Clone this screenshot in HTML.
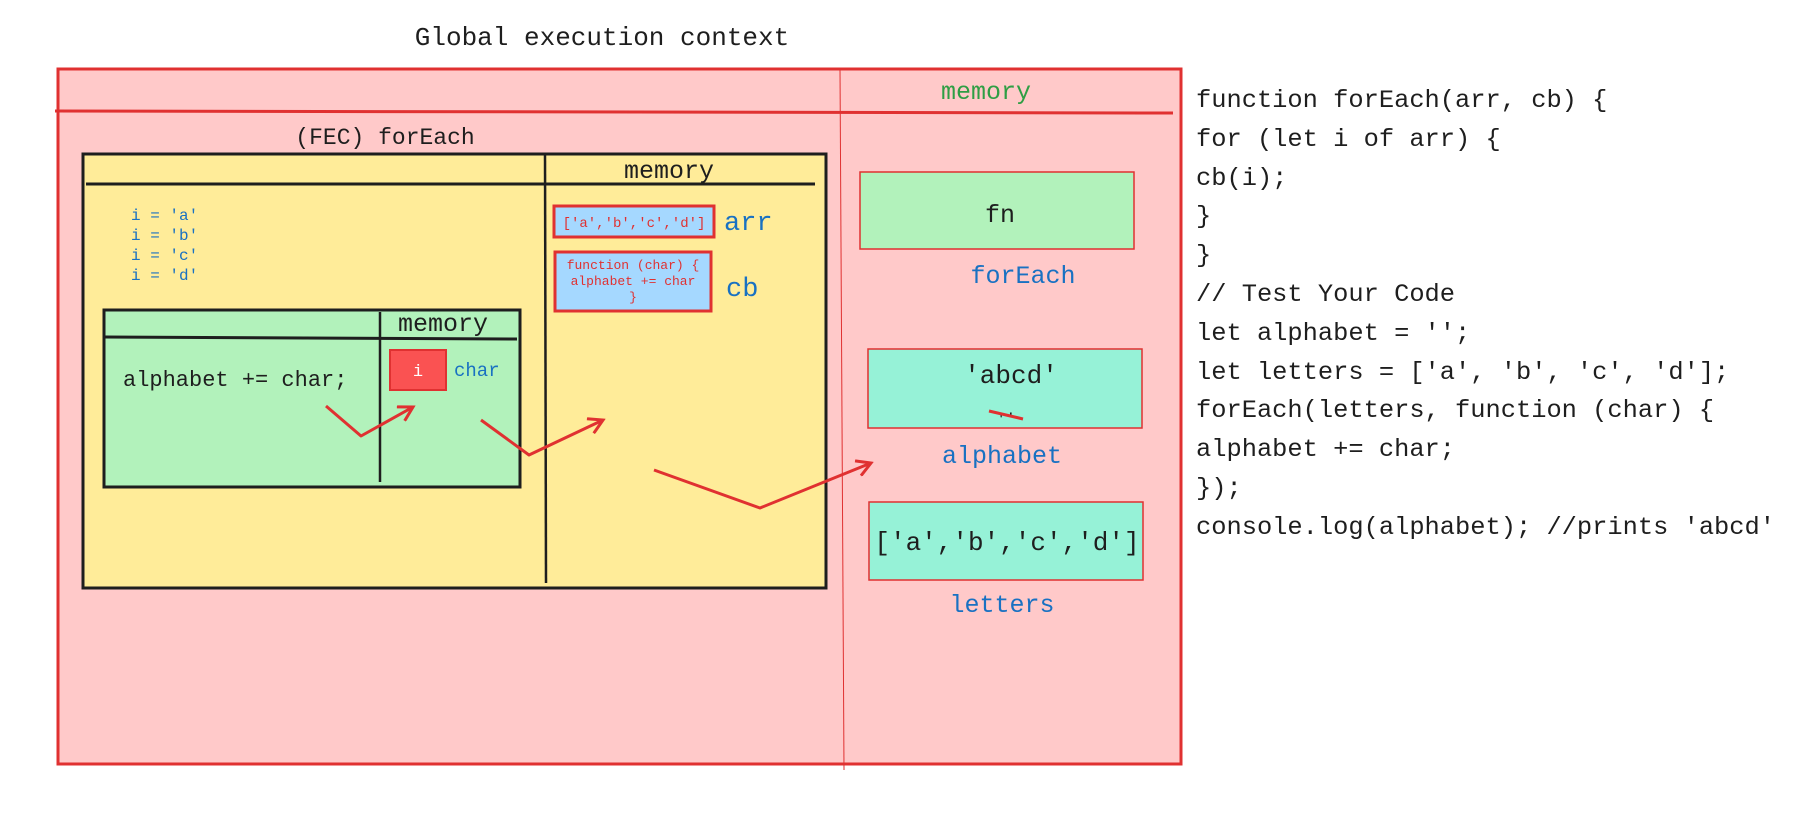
<!DOCTYPE html>
<html><head><meta charset="utf-8"><style>
html,body{margin:0;padding:0;background:#fff;width:1793px;height:817px;overflow:hidden}
svg{display:block}
text{font-family:"Liberation Mono",monospace}
</style></head><body>
<svg width="1793" height="817" viewBox="0 0 1793 817" xmlns="http://www.w3.org/2000/svg">
<defs>
<marker id="ah" markerWidth="18" markerHeight="18" refX="15" refY="9" orient="auto" markerUnits="userSpaceOnUse">
<path d="M1,1 L15,9 L1,17" fill="none" stroke="#e03131" stroke-width="3"/>
</marker>
</defs>
<text x="602" y="45" font-size="26" text-anchor="middle" fill="#1e1e1e">Global execution context</text>
<rect x="58" y="69" width="1123" height="695" fill="#ffc9c9" stroke="#e03131" stroke-width="3"/>
<line x1="55" y1="111" x2="1173" y2="113" stroke="#e03131" stroke-width="3"/>
<line x1="840" y1="69" x2="844" y2="770" stroke="#e03131" stroke-width="1"/>
<text x="986" y="99" font-size="25" text-anchor="middle" fill="#2f9e44">memory</text>

<text x="385" y="144" font-size="23" text-anchor="middle" fill="#1e1e1e">(FEC) forEach</text>
<rect x="83" y="154" width="743" height="434" fill="#ffec99" stroke="#1e1e1e" stroke-width="3"/>
<line x1="86" y1="184" x2="815" y2="184" stroke="#1e1e1e" stroke-width="3"/>
<line x1="545" y1="154" x2="546" y2="583" stroke="#1e1e1e" stroke-width="2.5"/>
<text x="669" y="178" font-size="25" text-anchor="middle" fill="#1e1e1e">memory</text>
<g font-size="16" fill="#1971c2">
<text x="131" y="220">i = 'a'</text>
<text x="131" y="240">i = 'b'</text>
<text x="131" y="260">i = 'c'</text>
<text x="131" y="280">i = 'd'</text>
</g>

<rect x="104" y="310" width="416" height="177" fill="#b2f2bb" stroke="#1e1e1e" stroke-width="3"/>
<line x1="105" y1="337" x2="517" y2="339" stroke="#1e1e1e" stroke-width="3"/>
<line x1="380" y1="312" x2="380" y2="482" stroke="#1e1e1e" stroke-width="2.5"/>
<text x="443" y="331" font-size="25" text-anchor="middle" fill="#1e1e1e">memory</text>
<text x="123" y="386" font-size="22" fill="#1e1e1e">alphabet += char;</text>
<rect x="390" y="350" width="56" height="40" fill="#fa5252" stroke="#e03131" stroke-width="2"/>
<text x="418" y="376" font-size="17" text-anchor="middle" fill="#fff">i</text>
<text x="454" y="376" font-size="19" fill="#1971c2">char</text>

<rect x="554" y="206" width="160" height="31" fill="#a5d8ff" stroke="#e03131" stroke-width="3"/>
<text x="634" y="227" font-size="14" text-anchor="middle" fill="#e03131">['a','b','c','d']</text>
<text x="724" y="230" font-size="27" fill="#1971c2">arr</text>
<rect x="555" y="252" width="156" height="59" fill="#a5d8ff" stroke="#e03131" stroke-width="3"/>
<g font-size="13" text-anchor="middle" fill="#e03131">
<text x="633" y="269">function (char) {</text>
<text x="633" y="285">alphabet += char</text>
<text x="633" y="301">}</text>
</g>
<text x="726" y="296" font-size="27" fill="#1971c2">cb</text>

<rect x="860" y="172" width="274" height="77" fill="#b2f2bb" stroke="#e03131" stroke-width="1.5"/>
<text x="1000" y="222" font-size="25" text-anchor="middle" fill="#1e1e1e">fn</text>
<text x="1023" y="283" font-size="25" text-anchor="middle" fill="#1971c2">forEach</text>

<rect x="868" y="349" width="274" height="79" fill="#96f2d7" stroke="#e03131" stroke-width="1.5"/>
<text x="1011" y="383" font-size="26" text-anchor="middle" fill="#1e1e1e">'abcd'</text>
<text x="1006" y="424" font-size="16" text-anchor="middle" fill="#1e1e1e">''</text>
<line x1="989" y1="411" x2="1023" y2="419" stroke="#e03131" stroke-width="3"/>
<text x="1002" y="463" font-size="25" text-anchor="middle" fill="#1971c2">alphabet</text>

<rect x="869" y="502" width="274" height="78" fill="#96f2d7" stroke="#e03131" stroke-width="1.5"/>
<text x="1007" y="550" font-size="26" text-anchor="middle" fill="#1e1e1e">['a','b','c','d']</text>
<text x="1002" y="612" font-size="25" text-anchor="middle" fill="#1971c2">letters</text>

<g fill="none" stroke="#e03131" stroke-width="3" stroke-linejoin="round">
<polyline points="326,406 361,436 413,407" marker-end="url(#ah)"/>
<polyline points="481,420 529,455 603,420" marker-end="url(#ah)"/>
<polyline points="654,470 760,508 871,463" marker-end="url(#ah)"/>
</g>

<g font-size="25.4" fill="#1e1e1e">
<text x="1196" y="107">function forEach(arr, cb) {</text>
<text x="1196" y="146">for (let i of arr) {</text>
<text x="1196" y="185">cb(i);</text>
<text x="1196" y="223">}</text>
<text x="1196" y="262">}</text>
<text x="1196" y="301">// Test Your Code</text>
<text x="1196" y="340">let alphabet = '';</text>
<text x="1196" y="379">let letters = ['a', 'b', 'c', 'd'];</text>
<text x="1196" y="417">forEach(letters, function (char) {</text>
<text x="1196" y="456">alphabet += char;</text>
<text x="1196" y="495">});</text>
<text x="1196" y="534">console.log(alphabet); //prints 'abcd'</text>
</g>
</svg>
</body></html>
